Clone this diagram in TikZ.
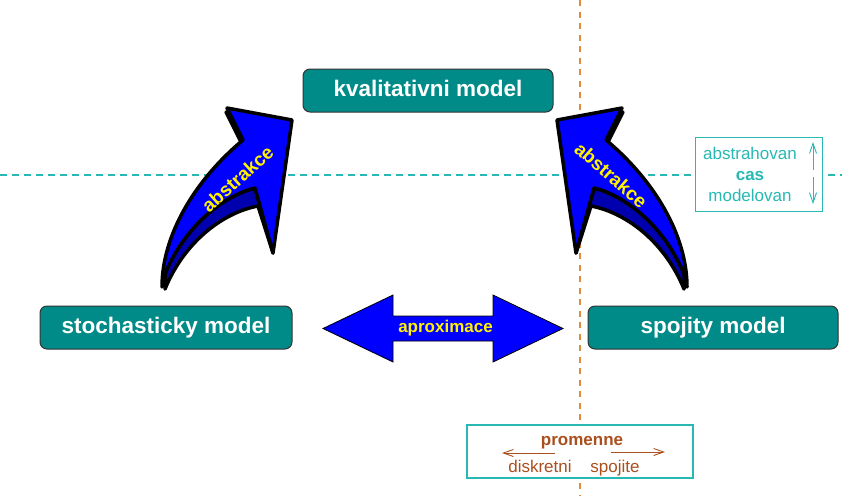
\documentclass[tikz,border=0pt]{standalone}
\usepackage{fontspec}
\setmainfont{Liberation Sans}
\usetikzlibrary{arrows.meta,positioning}
\definecolor{modelteal}{RGB}{0,139,136}
\definecolor{lineteal}{RGB}{40,185,180}
\definecolor{axisorange}{RGB}{225,140,60}
\definecolor{varbrown}{RGB}{170,80,30}
\definecolor{deepblue}{RGB}{0,0,175}

\begin{document}
\begin{tikzpicture}
		[x=1pt,y=-1pt,
		model node/.style={shape=rectangle,rounded corners=7pt,draw=black!80,line width=1pt,fill=modelteal,text=white,font=\fontsize{22.5}{27}\selectfont\bfseries,minimum width=250pt,minimum height=43pt,text height=16pt,text depth=4.6pt,inner sep=0pt},
		note box/.style={shape=rectangle,draw=lineteal,line width=1.2pt,fill=white,inner sep=0pt},
		arrow text/.style={text=yellow,font=\fontsize{19}{21}\selectfont\bfseries},
		small text/.style={font=\fontsize{17}{21}\selectfont,anchor=base},
		barb/.style={line width=0.9pt,-{Straight Barb[length=10pt,width=7pt]}},
		bent arrow/.pic={
			\filldraw[fill=deepblue,draw=black,line width=3.5pt,line join=round]
			(165,289) .. controls (185,240) and (225,212) .. (258,206) -- (273,253) -- (255,188) .. controls (225,195) and (185,225) .. (165,274) -- cycle;
			\filldraw[fill=deepblue,draw=black,line width=3.5pt,line join=round]
			(226,112) -- (243,146) -- (246,136) -- cycle;
			\filldraw[fill=blue,draw=black,line width=3.5pt,line join=round]
			(162,287) .. controls (162,235) and (195,180) .. (243,140) -- (227,108) -- (292,120) -- (273,253) -- (255,188) .. controls (225,195) and (185,225) .. (165,274) -- cycle;
		}
		]
		
		\useasboundingbox (0,0) rectangle (842,496);
		
		\draw[lineteal,line width=1.2pt,dash pattern=on 7pt off 5pt] (0,175) -- (842,175);
		\draw[axisorange,line width=1.2pt,dash pattern=on 6pt off 5.5pt] (580,0) -- (580,496);
		
		\pic at (0,0) {bent arrow};
		\pic[xscale=-1] at (849,0) {bent arrow};
		
		\node [arrow text,rotate=42] (abs left) at (237.5,179) {abstrakce};
		\node [arrow text,rotate=-41] (abs right) at (611,175) {abstrakce};
		
		\node [model node] (kval) at (428,90.5) {kvalitativni model};
		\node [model node,minimum width=252pt] (stoch) at (166,327.5) {stochasticky model};
		\node [model node] (spoj) at (713,327.5) {spojity model};
		
		\filldraw[fill=blue,draw=black,line width=0.8pt] (323,328.5) -- (393,295) -- (393,316) -- (493,316) -- (493,295) -- (563,328.5) -- (493,362) -- (493,341) -- (393,341) -- (393,362) -- cycle;
		\node [arrow text,font=\fontsize{17}{20}\selectfont\bfseries] (aprox) at (445.5,328.5) {aproximace};
		
		\node [note box,minimum width=127pt,minimum height=74pt] (cas box) at (759,174.5) {};
		\node [text=lineteal,align=center,font=\fontsize{17}{21}\selectfont] (cas) at (750,174.8) {abstrahovan\\\textbf{cas}\\modelovan};
		\coordinate (up a) at (813,170);
		\coordinate (up b) at (813,142);
		\coordinate (down a) at (813,177);
		\coordinate (down b) at (813,204);
		\draw[lineteal,barb] (up a) -- (up b);
		\draw[lineteal,barb] (down a) -- (down b);
		
		\node [note box,minimum width=226pt,minimum height=53pt] (prom box) at (580,451.5) {};
		\node [small text,text=varbrown,font=\fontsize{17}{21}\selectfont\bfseries] (prom) at (582,445) {promenne};
		\node [small text,text=varbrown] (disk) at (540,472) {diskretni};
		\node [small text,text=varbrown] (spoj text) at (615,472) {spojite};
		\coordinate (disk a) at (555,453);
		\coordinate (disk b) at (502,453);
		\coordinate (spoj a) at (611,452);
		\coordinate (spoj b) at (665,452);
		\draw[varbrown,barb] (disk a) -- (disk b);
		\draw[varbrown,barb] (spoj a) -- (spoj b);
		
\end{tikzpicture}
\end{document}
